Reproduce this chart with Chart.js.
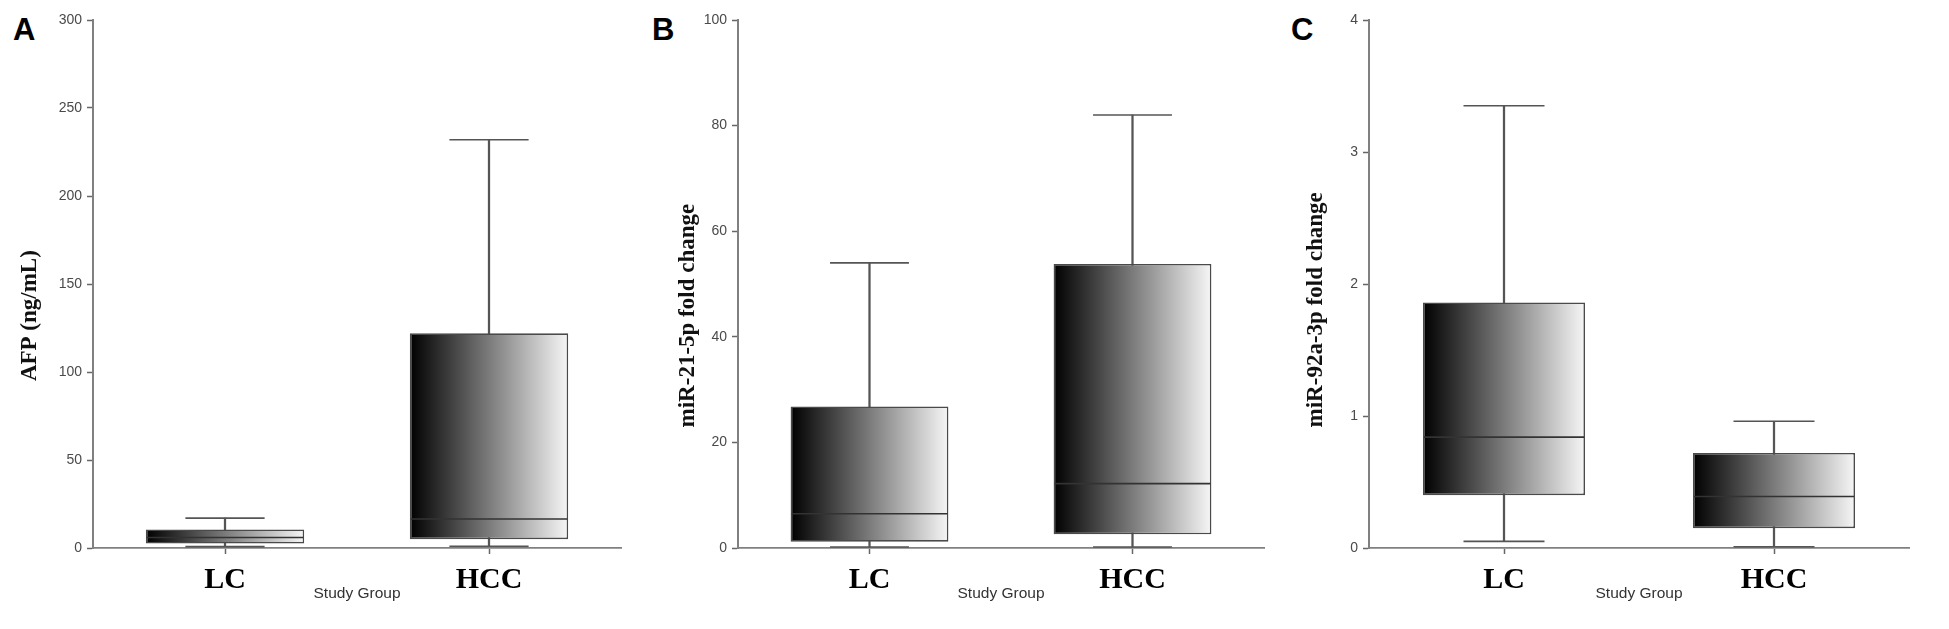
<!DOCTYPE html>
<html>
<head>
<meta charset="utf-8">
<script src="https://cdn.jsdelivr.net/npm/chart.js@4.4.1/dist/chart.umd.min.js"></script>
<style>
html, body { margin: 0; padding: 0; background: #ffffff; }
body { width: 1949px; height: 629px; position: relative; overflow: hidden; }
.panel { position: absolute; top: 0; height: 629px; }
.letter { position: absolute; font-family: "Liberation Sans", Arial, sans-serif; font-weight: bold; font-size: 31px; line-height: 31px; color: #000; }
</style>
</head>
<body>
<div class="letter" style="left:13px; top:14px;">A</div>
<div class="letter" style="left:652px; top:14px;">B</div>
<div class="letter" style="left:1291px; top:14px;">C</div>
<div class="panel" style="left:0px; width:645px;"><canvas id="chartA" width="645" height="629"></canvas></div>
<div class="panel" style="left:645px; width:645px;"><canvas id="chartB" width="645" height="629"></canvas></div>
<div class="panel" style="left:1290px; width:659px;"><canvas id="chartC" width="659" height="629"></canvas></div>
<script>
// ---- data ----
const groups = ['LC', 'HCC'];

const afpMin    = [0.8, 1.0];
const afpQ1     = [2.5, 5.0];
const afpMedian = [6.0, 16.5];
const afpQ3     = [10.5, 122];
const afpMax    = [17, 232];
const afpTicks  = [0, 50, 100, 150, 200, 250, 300];

const mir21Min    = [0.2, 0.2];
const mir21Q1     = [1.2, 2.6];
const mir21Median = [6.5, 12.2];
const mir21Q3     = [26.8, 53.8];
const mir21Max    = [54, 82];
const mir21Ticks  = [0, 20, 40, 60, 80, 100];

const mir92Min    = [0.05, 0.01];
const mir92Q1     = [0.40, 0.15];
const mir92Median = [0.84, 0.39];
const mir92Q3     = [1.86, 0.72];
const mir92Max    = [3.35, 0.96];
const mir92Ticks  = [0, 1, 2, 3, 4];

// ---- drawing ----
const BOX_FRAC = 0.6;
const CAP_FRAC = 0.3;
const SANS = '"Liberation Sans", Arial, sans-serif';
const SERIF = '"Liberation Serif", "Times New Roman", serif';

function catWidth(chart) {
  const x = chart.scales && chart.scales.x;
  const w = x ? x.width / groups.length : 0;
  return isFinite(w) && w > 0 ? w : 0;
}

function gradientFill(ctx) {
  const chart = ctx.chart;
  const x = chart.scales && chart.scales.x;
  if (!x || ctx.type !== 'data') return '#777777';
  const cx = x.getPixelForValue(ctx.dataIndex);
  const hw = catWidth(chart) * BOX_FRAC / 2;
  if (!isFinite(cx) || !(hw > 0)) return '#777777';
  const g = chart.ctx.createLinearGradient(cx - hw, 0, cx + hw, 0);
  g.addColorStop(0, '#000000');
  g.addColorStop(1, '#f6f6f6');
  return g;
}

function boxChart(id, d, o) {
  return new Chart(document.getElementById(id), {
    type: 'bar',
    data: {
      labels: groups,
      datasets: [
        {
          label: 'whisker',
          data: groups.map((g, i) => [d.min[i], d.max[i]]),
          backgroundColor: '#555555',
          barThickness: 1.6,
          grouped: false,
          clip: false,
          order: 5
        },
        {
          label: 'box',
          data: groups.map((g, i) => [d.q1[i], d.q3[i]]),
          backgroundColor: gradientFill,
          borderColor: '#4a4a4a',
          borderWidth: 1.6,
          borderSkipped: false,
          barPercentage: BOX_FRAC,
          categoryPercentage: 1,
          grouped: false,
          clip: false,
          order: 4
        },
        {
          type: 'line',
          label: 'median',
          data: d.med,
          showLine: false,
          pointStyle: 'line',
          pointRadius: ctx => Math.max(0, catWidth(ctx.chart) * BOX_FRAC / 2 - 1),
          pointBorderColor: '#333333',
          pointBorderWidth: 1.6,
          clip: false,
          order: 1
        },
        {
          type: 'line',
          label: 'max',
          data: d.max,
          showLine: false,
          pointStyle: 'line',
          pointRadius: ctx => catWidth(ctx.chart) * CAP_FRAC / 2,
          pointBorderColor: '#555555',
          pointBorderWidth: 1.6,
          clip: false,
          order: 2
        },
        {
          type: 'line',
          label: 'min',
          data: d.min,
          showLine: false,
          pointStyle: 'line',
          pointRadius: ctx => catWidth(ctx.chart) * CAP_FRAC / 2,
          pointBorderColor: '#555555',
          pointBorderWidth: 1.6,
          clip: false,
          order: 2
        }
      ]
    },
    options: {
      responsive: false,
      animation: false,
      events: [],
      layout: { padding: { left: 0, right: o.padRight, top: 20, bottom: 0 } },
      plugins: { legend: { display: false }, tooltip: { enabled: false } },
      scales: {
        x: {
          type: 'category',
          offset: true,
          grid: { display: true, drawOnChartArea: false, drawTicks: true, tickLength: 6, tickColor: '#666666', tickWidth: 1.5, offset: false },
          border: { display: true, color: '#808080', width: 1.8 },
          ticks: {
            color: '#000000',
            font: { family: SERIF, weight: 'bold', size: 30, lineHeight: 1.2 },
            padding: 8,
            maxRotation: 0,
            autoSkip: false
          },
          title: {
            display: true,
            text: 'Study Group',
            color: '#333333',
            font: { family: SANS, size: 15.5, lineHeight: 1.2 },
            padding: { top: 0, bottom: 26 }
          },
          afterFit: s => { s.height = 81; }
        },
        y: {
          min: 0,
          max: o.ticks[o.ticks.length - 1],
          afterBuildTicks: s => { s.ticks = o.ticks.map(v => ({ value: v })); },
          grid: { display: true, drawOnChartArea: false, drawTicks: true, tickLength: 6, tickColor: '#666666', tickWidth: 1.5 },
          border: { display: true, color: '#808080', width: 2 },
          ticks: {
            color: '#4a4a4a',
            font: { family: SANS, size: 14 },
            padding: 5
          },
          title: {
            display: true,
            // trailing spaces push the centred rotated title toward the axis bottom, as in the original
            text: o.title + ' '.repeat(o.titleShift),
            color: '#111111',
            font: { family: SERIF, weight: 'bold', size: 23, lineHeight: 1.2 },
            padding: { top: o.titlePad, bottom: 0 }
          },
          afterFit: s => { s.width = o.axisWidth; }
        }
      }
    }
  });
}

boxChart('chartA',
  { min: afpMin, q1: afpQ1, med: afpMedian, q3: afpQ3, max: afpMax },
  { ticks: afpTicks, title: 'AFP (ng/mL)', axisWidth: 93, padRight: 24, titlePad: 16, titleShift: 11 });

boxChart('chartB',
  { min: mir21Min, q1: mir21Q1, med: mir21Median, q3: mir21Q3, max: mir21Max },
  { ticks: mir21Ticks, title: 'miR-21-5p fold change', axisWidth: 93, padRight: 26, titlePad: 29, titleShift: 11 });

boxChart('chartC',
  { min: mir92Min, q1: mir92Q1, med: mir92Median, q3: mir92Q3, max: mir92Max },
  { ticks: mir92Ticks, title: 'miR-92a-3p fold change', axisWidth: 79, padRight: 40, titlePad: 12, titleShift: 9 });
</script>
</body>
</html>
